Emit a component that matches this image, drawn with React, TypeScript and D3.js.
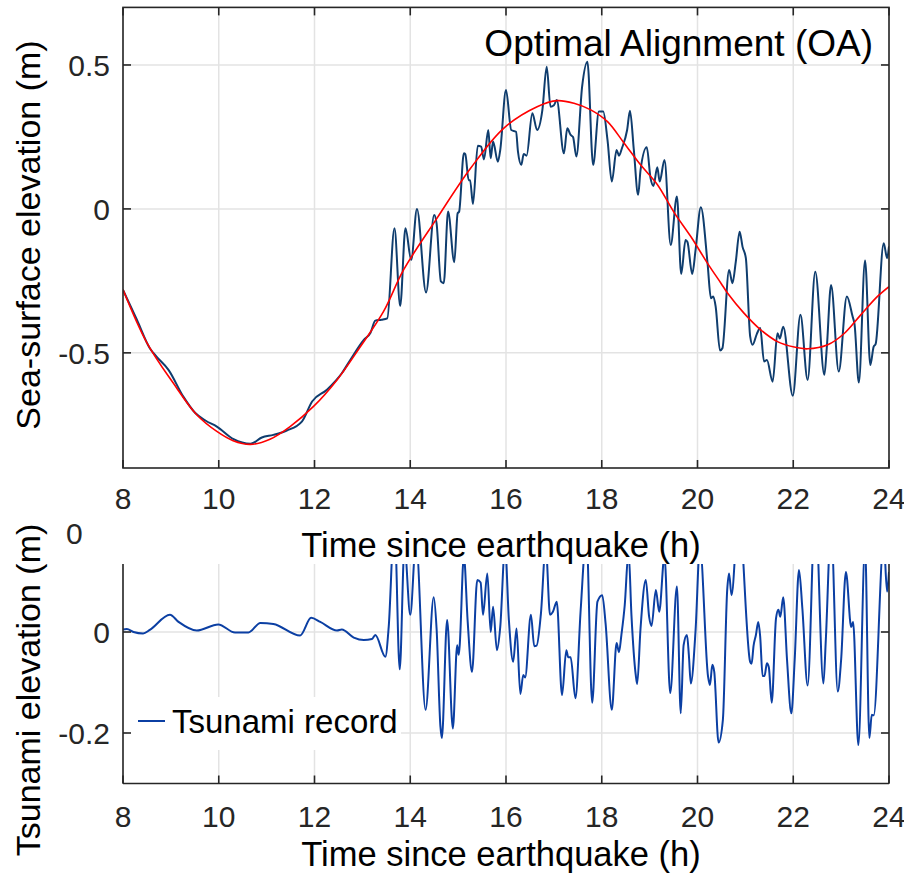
import React from 'react';
import * as d3 from 'd3';

const W = 904;
const H = 876;

const xTickValues = [8, 10, 12, 14, 16, 18, 20, 22, 24];
const topYTickValues = [0.5, 0, -0.5];
const botYTickValues = [0, -0.2];

// Observed sea-surface elevation (top panel, dark blue)
const obsTime = [8.0, 8.29, 8.56, 8.7, 8.95, 9.26, 9.51, 9.72, 9.96, 10.31, 10.66, 10.9, 11.14, 11.42, 11.74, 11.95, 12.26, 12.57, 12.75, 13.03, 13.17, 13.27, 13.4, 13.52, 13.67, 13.79, 13.9, 14.02, 14.14, 14.33, 14.5, 14.55, 14.64, 14.7, 14.79, 14.92, 14.99, 15.02, 15.12, 15.15, 15.22, 15.25, 15.31, 15.41, 15.48, 15.54, 15.63, 15.68, 15.73, 15.83, 15.88, 16.0, 16.11, 16.21, 16.25, 16.32, 16.37, 16.43, 16.55, 16.65, 16.76, 16.85, 16.93, 17.0, 17.06, 17.21, 17.28, 17.35, 17.4, 17.47, 17.59, 17.7, 17.82, 17.94, 18.03, 18.12, 18.21, 18.31, 18.36, 18.42, 18.53, 18.59, 18.67, 18.76, 18.81, 18.94, 19.02, 19.08, 19.16, 19.21, 19.31, 19.44, 19.57, 19.66, 19.75, 19.79, 19.89, 19.96, 20.07, 20.21, 20.28, 20.33, 20.38, 20.47, 20.52, 20.66, 20.73, 20.8, 20.88, 20.94, 21.01, 21.1, 21.15, 21.24, 21.31, 21.39, 21.45, 21.57, 21.67, 21.72, 21.79, 21.99, 22.15, 22.3, 22.46, 22.65, 22.7, 22.79, 22.95, 23.12, 23.24, 23.28, 23.37, 23.5, 23.61, 23.68, 23.72, 23.89, 23.96, 24.0];
const obsElev = [-0.281, -0.385, -0.484, -0.513, -0.559, -0.652, -0.709, -0.735, -0.756, -0.8, -0.816, -0.794, -0.785, -0.77, -0.738, -0.669, -0.628, -0.571, -0.524, -0.455, -0.43, -0.388, -0.385, -0.38, -0.067, -0.337, -0.067, -0.177, 0.0, -0.29, -0.021, -0.05, -0.252, -0.258, -0.009, -0.185, -0.015, -0.01, 0.193, 0.19, 0.1, 0.1, 0.017, 0.219, 0.216, 0.172, 0.274, 0.176, 0.234, 0.164, 0.205, 0.413, 0.274, 0.268, 0.199, 0.153, 0.191, 0.185, 0.332, 0.274, 0.344, 0.494, 0.355, 0.36, 0.378, 0.193, 0.28, 0.257, 0.25, 0.182, 0.425, 0.511, 0.153, 0.338, 0.338, 0.24, 0.095, 0.205, 0.185, 0.21, 0.274, 0.341, 0.205, 0.049, 0.135, 0.214, 0.106, 0.08, 0.145, 0.095, 0.17, -0.125, 0.043, -0.226, -0.108, -0.115, -0.226, -0.142, 0.006, -0.189, -0.31, -0.304, -0.34, -0.492, -0.484, -0.212, -0.258, -0.183, -0.079, -0.131, -0.171, -0.443, -0.472, -0.434, -0.414, -0.53, -0.525, -0.6, -0.432, -0.45, -0.409, -0.649, -0.368, -0.594, -0.218, -0.576, -0.484, -0.264, -0.565, -0.304, -0.374, -0.4, -0.603, -0.179, -0.542, -0.478, -0.47, -0.119, -0.171, -0.13];

// Optimal alignment fit (top panel, red)
const fitTime = [8.0, 8.5, 9.05, 9.54, 9.96, 10.3, 10.66, 11.07, 11.49, 11.98, 12.47, 12.96, 13.44, 13.86, 14.56, 15.26, 15.95, 16.65, 17.07, 17.42, 17.77, 18.12, 18.46, 18.81, 19.16, 19.51, 19.86, 20.21, 20.49, 20.63, 20.97, 21.32, 21.67, 22.02, 22.3, 22.72, 23.07, 23.41, 23.76, 24.0];
const fitElev = [-0.28, -0.465, -0.605, -0.715, -0.773, -0.805, -0.818, -0.8, -0.756, -0.686, -0.594, -0.478, -0.357, -0.212, -0.032, 0.141, 0.28, 0.355, 0.376, 0.367, 0.344, 0.303, 0.23, 0.153, 0.085, -0.012, -0.096, -0.189, -0.258, -0.293, -0.362, -0.42, -0.461, -0.48, -0.486, -0.472, -0.432, -0.368, -0.304, -0.27];

// Tsunami record (bottom panel)
const recTime = [8.0, 8.08, 8.22, 8.42, 8.56, 8.98, 9.16, 9.54, 9.99, 10.34, 10.62, 10.87, 11.14, 11.7, 11.93, 12.12, 12.47, 12.57, 12.82, 13.03, 13.2, 13.27, 13.48, 13.55, 13.67, 13.78, 13.88, 14.0, 14.12, 14.32, 14.49, 14.55, 14.63, 14.66, 14.77, 14.89, 14.98, 15.01, 15.03, 15.12, 15.2, 15.29, 15.4, 15.47, 15.52, 15.61, 15.68, 15.73, 15.81, 15.88, 15.98, 16.06, 16.15, 16.22, 16.3, 16.36, 16.4, 16.52, 16.59, 16.64, 16.73, 16.83, 16.92, 16.98, 17.06, 17.17, 17.26, 17.3, 17.35, 17.45, 17.56, 17.68, 17.8, 17.91, 18.01, 18.08, 18.21, 18.31, 18.36, 18.41, 18.48, 18.56, 18.62, 18.71, 18.74, 18.81, 18.92, 18.99, 19.04, 19.13, 19.2, 19.31, 19.43, 19.57, 19.65, 19.71, 19.78, 19.82, 19.86, 19.96, 20.05, 20.22, 20.26, 20.31, 20.35, 20.44, 20.53, 20.62, 20.66, 20.71, 20.86, 21.1, 21.13, 21.17, 21.22, 21.27, 21.31, 21.36, 21.4, 21.45, 21.49, 21.55, 21.64, 21.69, 21.73, 21.79, 21.87, 21.96, 22.03, 22.12, 22.19, 22.3, 22.46, 22.63, 22.68, 22.79, 22.93, 23.0, 23.1, 23.21, 23.25, 23.36, 23.5, 23.59, 23.64, 23.68, 23.89, 23.96, 24.0];
const recElev = [0.005, 0.006, 0.0, -0.003, 0.004, 0.034, 0.02, 0.003, 0.015, -0.001, -0.001, 0.018, 0.016, -0.007, 0.028, 0.02, 0.003, 0.005, -0.011, -0.016, -0.014, -0.006, -0.049, 0.01, 0.22, -0.074, 0.17, 0.034, 0.18, -0.154, 0.069, 0.007, -0.187, -0.21, 0.024, -0.191, -0.026, -0.045, -0.03, 0.15, 0.02, -0.079, 0.103, 0.098, 0.034, 0.116, 0.0, 0.05, -0.036, 0.01, 0.17, 0.024, -0.059, 0.007, -0.123, -0.085, -0.09, 0.034, -0.028, -0.027, 0.037, 0.17, 0.034, 0.04, 0.06, -0.125, -0.036, -0.05, -0.05, -0.131, 0.044, 0.19, -0.14, 0.06, 0.073, 0.017, -0.154, -0.022, -0.04, -0.006, 0.053, 0.16, 0.034, -0.085, -0.103, 0.007, 0.103, 0.03, 0.012, 0.083, 0.04, 0.15, -0.121, 0.09, -0.161, -0.026, -0.006, -0.046, -0.102, 0.004, 0.17, -0.088, -0.105, -0.065, -0.079, -0.219, -0.174, 0.083, 0.116, 0.073, 0.24, -0.059, -0.063, -0.028, -0.006, 0.02, -0.01, -0.087, -0.087, -0.062, -0.07, -0.14, 0.027, 0.044, 0.03, 0.069, -0.055, -0.161, -0.055, 0.123, 0.047, -0.106, 0.25, -0.102, -0.016, 0.21, -0.118, -0.055, 0.119, 0.01, 0.02, -0.224, 0.17, -0.21, -0.164, -0.165, 0.18, 0.08, 0.119];

const FONT = '"Liberation Sans", Arial, Helvetica, sans-serif';
const AXIS = '#262626';
const GRID = '#e3e3e3';

export default function App() {
  const x = d3.scaleLinear().domain([8, 24]).range([123, 889]);
  const yT = d3.scaleLinear().domain([-0.9, 0.7]).range([468, 7.4]);
  const yB = d3.scaleLinear().domain([-0.3, 0.2]).range([783.5, 531]);

  const top = { x0: 123, x1: 889, y0: 7.4, y1: 468 };
  const bot = { x0: 123, x1: 889, y0: 564, y1: 783.5 };

  const mk = (ts: number[], vs: number[], y: d3.ScaleLinear<number, number>, curve: d3.CurveFactory) =>
    d3.line<number>().x((_, i) => x(ts[i])).y((v) => y(v)).curve(curve)(vs) || '';

  const obsPath = mk(obsTime, obsElev, yT, d3.curveMonotoneX);
  const fitPath = mk(fitTime, fitElev, yT, d3.curveCatmullRom.alpha(0.5));
  const recPath = mk(recTime, recElev, yB, d3.curveMonotoneX);

  const tickLen = 8;

  return (
    <svg width={W} height={H} style={{ position: 'absolute', left: 0, top: 0, background: '#fff' }} fontFamily={FONT}>
      <defs>
        <clipPath id="clipTop"><rect x={top.x0} y={top.y0} width={top.x1 - top.x0} height={top.y1 - top.y0} /></clipPath>
        <clipPath id="clipBot"><rect x={bot.x0} y={bot.y0} width={bot.x1 - bot.x0} height={bot.y1 - bot.y0} /></clipPath>
      </defs>
      <rect x={0} y={0} width={W} height={H} fill="#fff" />

      {/* ---------- TOP PANEL ---------- */}
      <g>
        {xTickValues.map((t) => (
          <line key={'tgx' + t} x1={x(t)} x2={x(t)} y1={top.y0} y2={top.y1} stroke={GRID} strokeWidth={1.5} />
        ))}
        {topYTickValues.map((v) => (
          <line key={'tgy' + v} x1={top.x0} x2={top.x1} y1={yT(v)} y2={yT(v)} stroke={GRID} strokeWidth={1.5} />
        ))}
        <g clipPath="url(#clipTop)">
          <path d={obsPath} fill="none" stroke="#0f3d6e" strokeWidth={2} strokeLinejoin="round" />
          <path d={fitPath} fill="none" stroke="#ff0000" strokeWidth={1.6} />
        </g>
        <rect x={top.x0} y={top.y0} width={top.x1 - top.x0} height={top.y1 - top.y0} fill="none" stroke={AXIS} strokeWidth={1.6} />
        {xTickValues.map((t) => (
          <g key={'ttx' + t}>
            <line x1={x(t)} x2={x(t)} y1={top.y1} y2={top.y1 - tickLen} stroke={AXIS} strokeWidth={1.6} />
            <line x1={x(t)} x2={x(t)} y1={top.y0} y2={top.y0 + tickLen} stroke={AXIS} strokeWidth={1.6} />
            <text x={x(t)} y={509} fontSize={30} textAnchor="middle" fill="#262626">{String(t)}</text>
          </g>
        ))}
        {topYTickValues.map((v) => (
          <g key={'tty' + v}>
            <line x1={top.x0} x2={top.x0 + tickLen} y1={yT(v)} y2={yT(v)} stroke={AXIS} strokeWidth={1.6} />
            <line x1={top.x1} x2={top.x1 - tickLen} y1={yT(v)} y2={yT(v)} stroke={AXIS} strokeWidth={1.6} />
            <text x={110} y={yT(v)} dy="0.36em" fontSize={30} textAnchor="end" fill="#262626">{String(v)}</text>
          </g>
        ))}
        <text x={873} y={56} fontSize={37} textAnchor="end" fill="#000">Optimal Alignment (OA)</text>
        <text x={501} y={557} fontSize={34.5} textAnchor="middle" fill="#000">Time since earthquake (h)</text>
        <text transform={`translate(40,${235}) rotate(-90)`} fontSize={34} textAnchor="middle" fill="#000">Sea-surface elevation (m)</text>
      </g>

      {/* ---------- BOTTOM PANEL ---------- */}
      <g>
        <text x={66} y={544} fontSize={30} fill="#262626">0</text>
        {xTickValues.map((t) => (
          <line key={'bgx' + t} x1={x(t)} x2={x(t)} y1={bot.y0} y2={bot.y1} stroke={GRID} strokeWidth={1.5} />
        ))}
        {botYTickValues.map((v) => (
          <line key={'bgy' + v} x1={bot.x0} x2={bot.x1} y1={yB(v)} y2={yB(v)} stroke={GRID} strokeWidth={1.5} />
        ))}
        <g clipPath="url(#clipBot)">
          <path d={recPath} fill="none" stroke="#0b3fa3" strokeWidth={2} strokeLinejoin="round" />
        </g>
        {/* legend */}
        <rect x={127} y={697} width={274} height={53} fill="#fff" />
        <line x1={138} x2={165} y1={721} y2={721} stroke="#0b3fa3" strokeWidth={2} />
        <text x={172} y={733} fontSize={33} fill="#000">Tsunami record</text>

        <line x1={bot.x0} x2={bot.x0} y1={bot.y0} y2={bot.y1} stroke={AXIS} strokeWidth={1.6} />
        <line x1={bot.x1} x2={bot.x1} y1={bot.y0} y2={bot.y1} stroke={AXIS} strokeWidth={1.6} />
        <line x1={bot.x0} x2={bot.x1} y1={bot.y1} y2={bot.y1} stroke={AXIS} strokeWidth={1.6} />
        {xTickValues.map((t) => (
          <g key={'btx' + t}>
            <line x1={x(t)} x2={x(t)} y1={bot.y1} y2={bot.y1 - tickLen} stroke={AXIS} strokeWidth={1.6} />
            <text x={x(t)} y={827} fontSize={30} textAnchor="middle" fill="#262626">{String(t)}</text>
          </g>
        ))}
        {botYTickValues.map((v) => (
          <g key={'bty' + v}>
            <line x1={bot.x0} x2={bot.x0 + tickLen} y1={yB(v)} y2={yB(v)} stroke={AXIS} strokeWidth={1.6} />
            <line x1={bot.x1} x2={bot.x1 - tickLen} y1={yB(v)} y2={yB(v)} stroke={AXIS} strokeWidth={1.6} />
            <text x={110} y={yB(v)} dy="0.36em" fontSize={30} textAnchor="end" fill="#262626">{String(v)}</text>
          </g>
        ))}
        <text x={501} y={866} fontSize={34.5} textAnchor="middle" fill="#000">Time since earthquake (h)</text>
        <text transform={`translate(40,${690}) rotate(-90)`} fontSize={34} textAnchor="middle" fill="#000">Tsunami elevation (m)</text>
      </g>
    </svg>
  );
}
